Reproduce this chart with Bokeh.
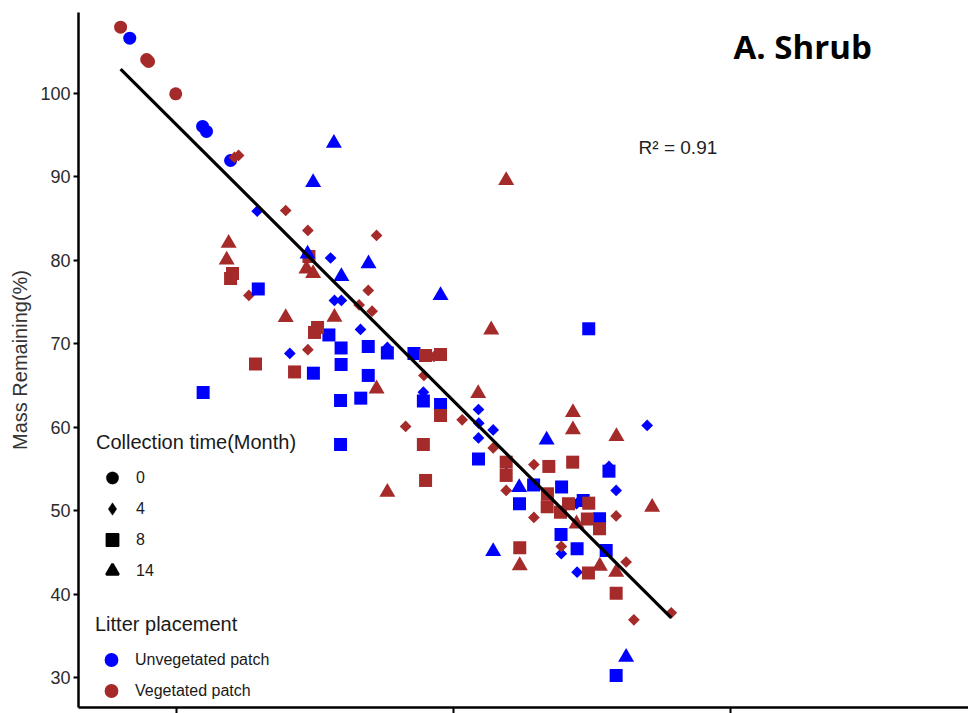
import math
from bokeh.plotting import figure
from bokeh.models import Range1d, FixedTicker, Legend, LegendItem, Label
from bokeh.embed import file_html
from bokeh.resources import INLINE

# ---------------- data ----------------
# Collection time 0 months
unveg_m0_x = [0.831, 1.094, 1.108, 1.195]
unveg_m0_y = [106.62, 96.05, 95.45, 91.97]
veg_m0_x = [0.798, 0.892, 0.899, 0.997]
veg_m0_y = [107.94, 104.07, 103.83, 99.96]

# Collection time 4 months
unveg_m4_x = [1.291, 1.556, 1.570, 1.595, 1.664, 1.409, 2.090, 2.091, 2.143, 2.090,
              2.190, 2.444, 2.587, 2.699, 2.389, 2.446, 2.561, 1.891, 1.761]
unveg_m4_y = [85.90, 80.29, 75.20, 75.20, 71.73, 68.85, 62.14, 60.50, 59.69, 58.73,
              54.51, 50.85, 52.44, 60.23, 44.86, 42.65, 55.32, 64.22, 69.57]
veg_m4_x = [1.209, 1.224, 1.394, 1.474, 1.722, 1.692, 1.659, 1.706, 1.261, 1.474,
            1.827, 1.893, 1.929, 2.031, 2.143, 2.190, 2.290, 2.290, 2.587, 2.389,
            2.623, 2.651, 2.786]
veg_m4_y = [92.33, 92.57, 85.98, 83.59, 82.99, 76.40, 74.66, 73.92, 75.80, 69.30,
            60.11, 66.22, 68.49, 60.91, 57.53, 52.44, 55.55, 49.21, 49.39, 45.73,
            43.87, 36.95, 37.79]

# Collection time 8 months
unveg_m8_x = [1.295, 1.096, 1.550, 1.594, 1.692, 1.761, 1.857, 1.494, 1.594, 1.692,
              1.592, 1.665, 1.592, 1.891, 1.953, 2.090, 2.289, 2.238, 2.390, 2.468,
              2.561, 2.527, 2.388, 2.446, 2.551, 2.488, 2.587]
unveg_m8_y = [76.58, 64.18, 71.07, 69.51, 69.69, 68.91, 68.85, 66.49, 67.53, 66.22,
              63.22, 63.50, 57.95, 63.16, 62.74, 56.21, 53.10, 50.85, 52.86, 51.24,
              54.75, 49.05, 47.17, 45.45, 45.25, 71.81, 30.28]
veg_m8_x = [1.202, 1.195, 1.478, 1.509, 1.498, 1.285, 1.426, 1.899, 1.953, 1.891,
            1.899, 1.953, 2.190, 2.190, 2.344, 2.430, 2.339, 2.338, 2.415, 2.488,
            2.386, 2.483, 2.527, 2.239, 2.487, 2.587]
veg_m8_y = [78.44, 77.84, 80.47, 71.97, 71.37, 67.59, 66.64, 68.61, 68.73, 57.95,
            53.64, 61.42, 55.83, 54.24, 55.32, 55.83, 52.04, 50.49, 50.85, 50.92,
            49.84, 49.03, 47.85, 45.57, 42.56, 40.14]

# Collection time 14 months
unveg_m14_x = [1.568, 1.493, 1.473, 1.693, 1.595, 1.953, 2.336, 2.237, 2.143, 2.623]
unveg_m14_y = [94.05, 89.34, 80.77, 79.60, 78.08, 75.80, 58.49, 52.80, 45.13, 32.47]
veg_m14_x = [1.188, 1.181, 1.469, 1.493, 1.394, 1.570, 1.722, 1.761, 2.089, 2.190,
             2.136, 2.431, 2.431, 2.588, 2.717, 2.444, 2.239, 2.528, 2.587]
veg_m14_y = [82.07, 80.05, 79.00, 78.44, 73.17, 73.20, 64.62, 52.24, 64.06, 89.58,
             71.69, 61.78, 59.72, 58.91, 50.44, 48.45, 43.45, 43.39, 42.65]

# linear fit
fit_slope = -33.07
fit_intercept = 129.30
r2_text = "R\u00b2 = 0.91"

month_labels = ["0", "4", "8", "14"]
placement_labels = ["Unvegetated patch", "Vegetated patch"]
y_ticks = [30, 40, 50, 60, 70, 80, 90, 100]
x_ticks = [1, 2, 3]

BLUE = "#0000FF"
BROWN = "#A52A2A"
FONT = "Liberation Sans"
NAN = float("nan")

# ---------------- figure ----------------
p = figure(frame_width=890, frame_height=695,
           x_range=Range1d(0.646, 3.859), y_range=Range1d(26.44, 109.70),
           output_backend="svg", toolbar_location=None,
           min_border_left=78, min_border_top=12, min_border_right=0, min_border_bottom=6)
p.outline_line_color = None
p.grid.visible = False
p.background_fill_color = "white"
p.border_fill_color = "white"

xa = p.xaxis[0]
xa.ticker = FixedTicker(ticks=x_ticks)
xa.major_label_overrides = {1: "", 2: "", 3: ""}
xa.major_label_text_font_size = "0px"
xa.major_label_standoff = 0
xa.major_tick_out = 6
xa.major_tick_in = 0
xa.minor_tick_out = 0
xa.minor_tick_in = 0
xa.axis_line_width = 2.5
xa.major_tick_line_width = 2
xa.axis_line_color = "black"

ya = p.yaxis[0]
ya.ticker = FixedTicker(ticks=y_ticks)
ya.axis_label = "Mass Remaining(%)"
ya.axis_label_text_font = FONT
ya.axis_label_text_font_size = "20px"
ya.axis_label_text_font_style = "normal"
ya.axis_label_text_color = "#333333"
ya.axis_label_standoff = 6
ya.major_label_text_font = FONT
ya.major_label_text_font_size = "18px"
ya.major_label_text_color = "#2b2b2b"
ya.major_label_standoff = 3
ya.major_tick_out = 5
ya.major_tick_in = 0
ya.minor_tick_out = 0
ya.minor_tick_in = 0
ya.axis_line_width = 2.5
ya.major_tick_line_width = 2
ya.axis_line_color = "black"

# ---------------- points ----------------
DIAM = math.pi / 4
groups = [
    (unveg_m0_x, unveg_m0_y, "circle", 13, 0, BLUE),
    (veg_m0_x, veg_m0_y, "circle", 13, 0, BROWN),
    (unveg_m4_x, unveg_m4_y, "square", 8.3, DIAM, BLUE),
    (veg_m4_x, veg_m4_y, "square", 8.3, DIAM, BROWN),
    (unveg_m8_x, unveg_m8_y, "square", 13, 0, BLUE),
    (veg_m8_x, veg_m8_y, "square", 13, 0, BROWN),
    (unveg_m14_x, unveg_m14_y, "triangle", 16, 0, BLUE),
    (veg_m14_x, veg_m14_y, "triangle", 16, 0, BROWN),
]
for gx, gy, mk, sz, ang, col in groups:
    p.scatter(x=gx, y=gy, marker=mk, size=sz, angle=ang,
              fill_color=col, line_color=None)

# regression line
all_x = unveg_m0_x + veg_m0_x + unveg_m4_x + veg_m4_x + unveg_m8_x + veg_m8_x + unveg_m14_x + veg_m14_x
lx = [min(all_x), max(all_x)]
ly = [fit_intercept + fit_slope * v for v in lx]
p.line(lx, ly, line_color="black", line_width=3.2)

# ---------------- annotations ----------------
p.add_layout(Label(x=3.011, y=105.63, text="A. Shrub", text_font="Open Sans",
                   text_font_style="bold", text_font_size="33px",
                   text_baseline="middle", text_align="left", text_color="black"))
p.add_layout(Label(x=2.668, y=93.53, text=r2_text, text_font=FONT,
                   text_font_size="19px", text_baseline="middle", text_align="left",
                   text_color="#222222"))

# ---------------- legends (key glyphs: renderers with no visible points) ----------------
d0 = p.scatter(x=[NAN], y=[NAN], marker="circle", size=13, fill_color="black", line_color="black", line_width=0.3)
d4 = p.scatter(x=[NAN], y=[NAN], marker="diamond", size=13, fill_color="black", line_color="black", line_width=0.5)
d8 = p.scatter(x=[NAN], y=[NAN], marker="square", size=13, fill_color="black", line_color="black", line_width=1.4)
d14 = p.scatter(x=[NAN], y=[NAN], marker="triangle", size=13, fill_color="black", line_color="black", line_width=2.5)
du = p.scatter(x=[NAN], y=[NAN], marker="circle", size=13, fill_color=BLUE, line_color=BLUE, line_width=1.4)
dv = p.scatter(x=[NAN], y=[NAN], marker="circle", size=13, fill_color=BROWN, line_color=BROWN, line_width=1.4)


def make_legend(title, items, loc):
    lg = Legend(items=items, title=title, location=loc, orientation="vertical",
                padding=0, margin=0, spacing=0,
                glyph_width=32, glyph_height=31, label_height=20, label_standoff=8,
                title_standoff=8,
                title_text_font=FONT, title_text_font_size="20px",
                title_text_font_style="normal", title_text_color="#1a1a1a",
                label_text_font=FONT, label_text_font_size="16px",
                label_text_color="#1a1a1a",
                background_fill_alpha=0, border_line_color=None)
    p.add_layout(lg, "center")


make_legend("Collection time(Month)",
            [LegendItem(label=month_labels[i], renderers=[r]) for i, r in enumerate([d0, d4, d8, d14])],
            (18, 121))
make_legend("Litter placement",
            [LegendItem(label=placement_labels[i], renderers=[r]) for i, r in enumerate([du, dv])],
            (17, 1))

open("out.html", "w").write(file_html(p, INLINE))
